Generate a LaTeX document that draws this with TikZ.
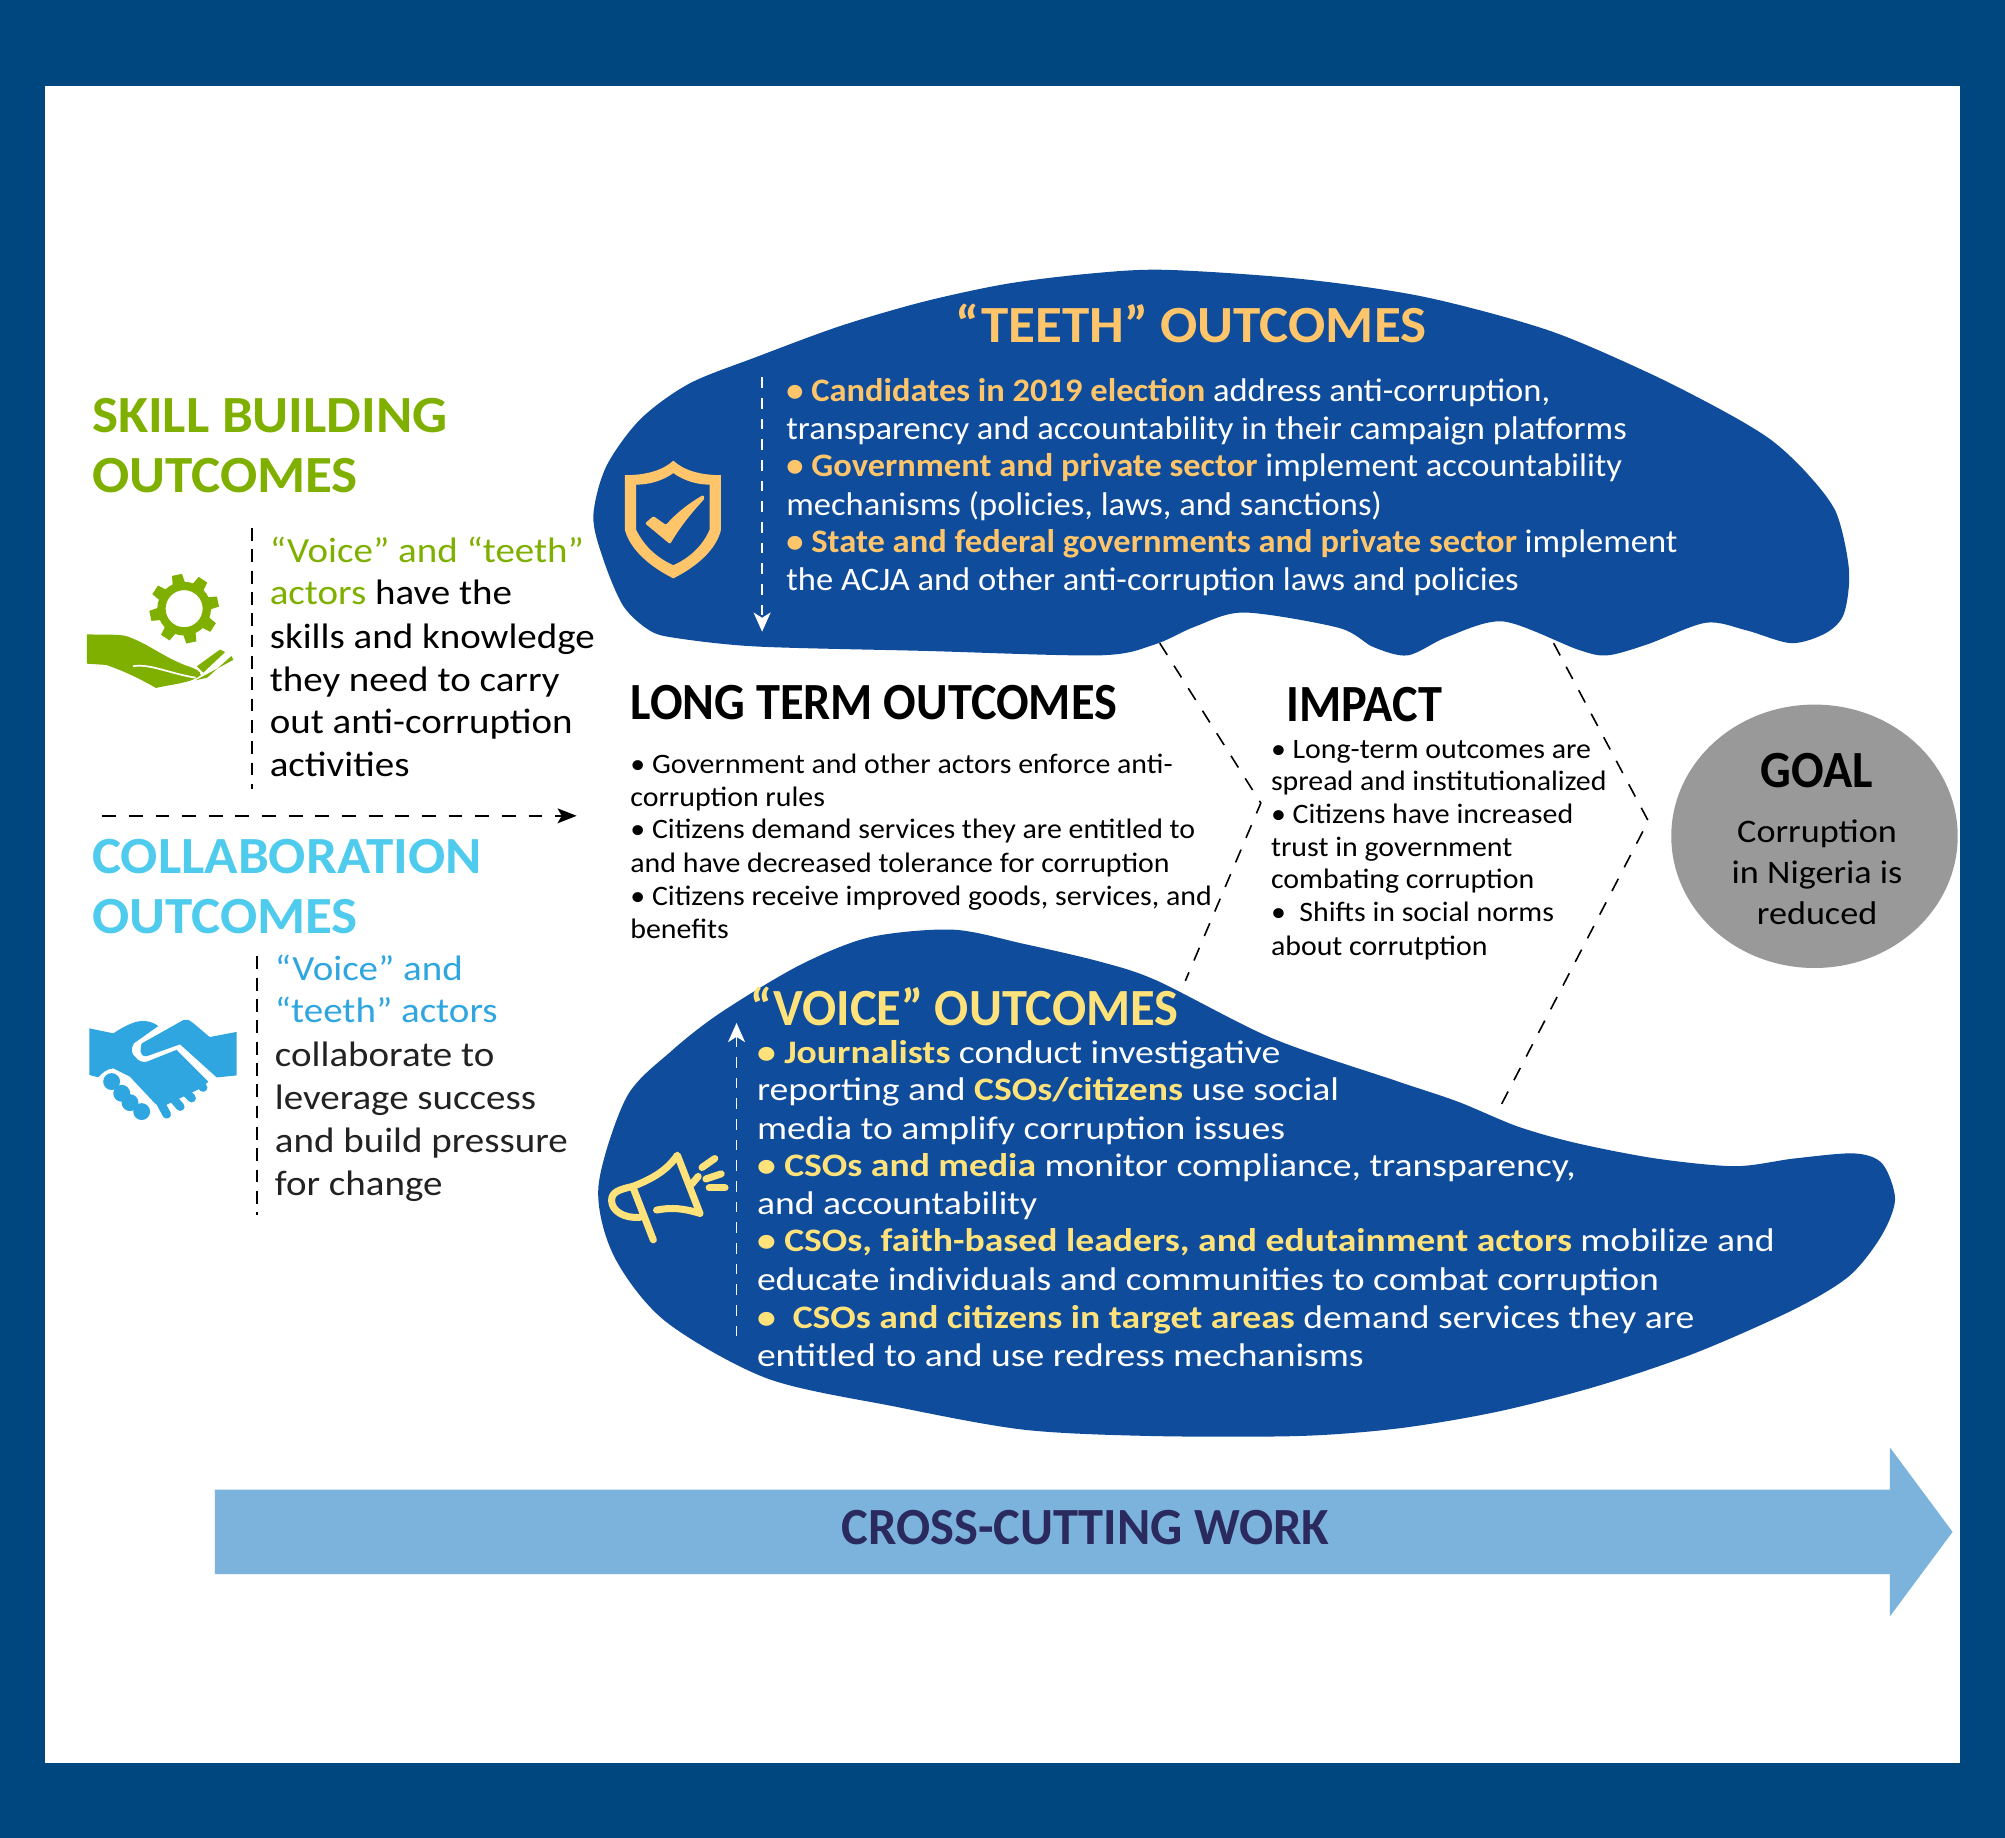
\documentclass[tikz,border=0pt]{standalone}
\usepackage{fontspec}
\setmainfont{Carlito}
\newfontfamily\fsA[FakeStretch=1.055]{Carlito}
\newfontfamily\fsB[FakeStretch=0.967]{Carlito}
\newfontfamily\fsC[FakeStretch=0.925]{Carlito}
\newfontfamily\fsD[FakeStretch=1.102]{Carlito}
\newfontfamily\fsE[FakeStretch=1.051]{Carlito}
\newfontfamily\fsF[FakeStretch=1.147]{Carlito}
\newfontfamily\fsG[FakeStretch=1.062]{Carlito}
\usetikzlibrary{arrows.meta}
\definecolor{frame}{HTML}{00477F}
\definecolor{blobblue}{HTML}{0F4C9B}
\definecolor{tgold}{HTML}{FFC56B}
\definecolor{vyel}{HTML}{FFE27A}
\definecolor{sgreen}{HTML}{7FB000}
\definecolor{ccyan}{HTML}{4FCBEE}
\definecolor{cblue}{HTML}{2FA6E0}
\definecolor{arrowblue}{HTML}{7BB3DC}
\definecolor{ccnavy}{HTML}{2B2A5E}
\definecolor{goalgrey}{HTML}{999999}
\definecolor{txtdark}{HTML}{222222}
\newcommand{\G}[1]{\textcolor{tgold}{\bfseries #1}}
\newcommand{\Y}[1]{\textcolor{vyel}{\bfseries #1}}
\tikzset{
 x=0.6pt,y=-0.6pt,
 ln/.style={anchor=base west,inner sep=0pt,outer sep=0pt},
 headA/.style={ln,font=\fsA\bfseries\fontsize{24.5}{24.5}\selectfont},
 headB/.style={ln,font=\fsB\bfseries\fontsize{24.5}{24.5}\selectfont},
 headC/.style={ln,font=\fsC\bfseries\fontsize{24.5}{24.5}\selectfont},
 lbl/.style={ln,font=\fsD\fontsize{16.6}{18}\selectfont,text=black},
 goaltxt/.style={ln,anchor=base,font=\fsD\fontsize{15.4}{18}\selectfont,text=black},
 teethtxt/.style={ln,font=\fsE\fontsize{15.4}{18}\selectfont,text=white},
 voicetxt/.style={ln,font=\fsF\fontsize{15.4}{18}\selectfont,text=white},
 mid/.style={ln,font=\fsG\fontsize{13.2}{15}\selectfont,text=black},
 dlong/.style={dash pattern=on 6.5pt off 6pt,line width=0.75pt},
 dshort/.style={dash pattern=on 6pt off 4pt,line width=0.85pt},
}
\begin{document}
\begin{tikzpicture}
\useasboundingbox (0,0) rectangle (1568,1437);
\fill[frame] (0,0) rectangle (1568,1437);
\fill[white] (35,67) rectangle (1533,1379);
% teeth blob
\fill[blobblue] plot[smooth cycle,tension=0.5] coordinates {(464,404) (474,365) (500.6,328) (539,300) (592,279) (657,255) (722,236) (787,222) (852,214) (911,211) (1016,218) (1113,232) (1210,258) (1288,291) (1347,321) (1385,344) (1413,370) (1436,401) (1446,446) (1442,480) (1428,495) (1401,503) (1366,493) (1334,487) (1288,504) (1257,512.5) (1234,508) (1175.7,486) (1132,498) (1101,512.5) (1074,506) (1047,491) (973,479) (934.6,490) (903,504) (860,512.5) (722,509) (592,505.6) (529,499) (508,493) (487.5,474) (472,438)};
% voice blob
\fill[blobblue] plot[smooth cycle,tension=0.5] coordinates {(468,928) (490,858) (525,822) (563.5,792) (625,755) (680,733) (745,727) (800,738) (860,752) (905,767) (995,812) (1091,845) (1140,861.5) (1187,881) (1233,894) (1295,906) (1357,912) (1403,906) (1450,902) (1472,910) (1482,938) (1471,967) (1446,998) (1403,1024) (1326,1058) (1249,1084) (1171,1104) (1094,1117) (1016,1123) (900,1123) (800,1118) (700,1100) (600,1078) (520,1033) (480,982)};
% goal
\coordinate (goal) at (1419,654);
\fill[goalgrey] (goal) ellipse [x radius=112,y radius=103];
% big arrow
\fill[arrowblue] (168,1165) -- (1478,1165) -- (1478,1132) -- (1527,1198) -- (1478,1264) -- (1478,1231) -- (168,1231) -- cycle;
% connector points
\coordinate (ia) at (907,503); \coordinate (ib) at (986,628); \coordinate (ic) at (927,767);
\coordinate (ja) at (1215,503); \coordinate (jb) at (1289,642); \coordinate (jc) at (1174,864);
\draw[dlong,black] (ia) -- (ib) -- (ic);
\draw[dlong,black] (ja) -- (jb) -- (jc);
\coordinate (sa) at (197,413); \coordinate (sb) at (197,617);
\coordinate (ca) at (201,748); \coordinate (cb) at (201,950);
\coordinate (ha) at (80,638); \coordinate (hb) at (451,638);
\coordinate (ta) at (596,295); \coordinate (tb) at (596,494);
\coordinate (va) at (576,1045); \coordinate (vb) at (576,800);
\draw[dshort,black] (sa) -- (sb);
\draw[dshort,black] (ca) -- (cb);
\draw[dlong,black,-{Stealth[length=9pt,width=7pt,inset=2pt]}] (ha) -- (hb);
\draw[dshort,dash pattern=on 5pt off 4.7pt,white,-{Stealth[length=9pt,width=8pt,inset=2.5pt]}] (ta) -- (tb);
\draw[dshort,dash pattern=on 5pt off 4.7pt,white,-{Stealth[length=9pt,width=8pt,inset=2.5pt]}] (va) -- (vb);
% headings
\node[headA,text=sgreen] (s1) at (72,338) {SKILL BUILDING};
\node[headA,text=sgreen] (s2) at (72,385) {OUTCOMES};
\node[headA,text=ccyan] (c1) at (72,683) {COLLABORATION};
\node[headA,text=ccyan] (c2) at (72,730) {OUTCOMES};
\node[headA,text=tgold] (t0) at (747,268) {“TEETH” OUTCOMES};
\node[headB,text=vyel] (v0) at (587,802) {“VOICE” OUTCOMES};
\node[headC,text=black] (l0) at (493,563) {LONG TERM OUTCOMES};
\node[headC,text=black] (i0) at (1006,564) {IMPACT};
\node[headC,text=black,anchor=base] (g0) at (1421,616) {GOAL};
\node[headB,text=ccnavy,anchor=base] (x0) at (849,1208) {CROSS-CUTTING WORK};
% skill text
\node[lbl] (s3) at (211,440) {\textcolor{sgreen}{“Voice” and “teeth”}};
\node[lbl] (s4) at (211,473) {\textcolor{sgreen}{actors} have the};
\node[lbl] (s5) at (211,507) {skills and knowledge};
\node[lbl] (s6) at (211,541) {they need to carry};
\node[lbl] (s7) at (211,574) {out anti-corruption};
\node[lbl] (s8) at (211,607) {activities};
% collab text
\node[lbl] (c3) at (215,767) {\textcolor{cblue}{“Voice” and}};
\node[lbl] (c4) at (215,800) {\textcolor{cblue}{“teeth” actors}};
\node[lbl,text=txtdark] (c5) at (215,834) {collaborate to};
\node[lbl,text=txtdark] (c6) at (215,868) {leverage success};
\node[lbl,text=txtdark] (c7) at (215,901) {and build pressure};
\node[lbl,text=txtdark] (c8) at (215,935) {for change};
% teeth text
\node[teethtxt] (t1) at (615,314) {\G{• Candidates in 2019 election} address anti-corruption,};
\node[teethtxt] (t2) at (615,344) {transparency and accountability in their campaign platforms};
\node[teethtxt] (t3) at (615,373) {\G{• Government and private sector} implement accountability};
\node[teethtxt] (t4) at (615,403) {mechanisms (policies, laws, and sanctions)};
\node[teethtxt] (t5) at (615,432) {\G{• State and federal governments and private sector} implement};
\node[teethtxt] (t6) at (615,462) {the ACJA and other anti-corruption laws and policies};
% voice text
\node[voicetxt] (v1) at (592,832) {\Y{• Journalists} conduct investigative};
\node[voicetxt] (v2) at (592,861) {reporting and \Y{CSOs/citizens} use social};
\node[voicetxt] (v3) at (592,891) {media to amplify corruption issues};
\node[voicetxt] (v4) at (592,920) {\Y{• CSOs and media} monitor compliance, transparency,};
\node[voicetxt] (v5) at (592,950) {and accountability};
\node[voicetxt] (v6) at (592,979) {\Y{• CSOs, faith-based leaders, and edutainment actors} mobilize and};
\node[voicetxt] (v7) at (592,1009) {educate individuals and communities to combat corruption};
\node[voicetxt] (v8) at (592,1039) {\Y{•\ \ CSOs and citizens in target areas} demand services they are};
\node[voicetxt] (v9) at (592,1069) {entitled to and use redress mechanisms};
% long term
\node[mid] (l1) at (493,605) {• Government and other actors enforce anti-};
\node[mid] (l2) at (493,631) {corruption rules};
\node[mid] (l3) at (493,656) {• Citizens demand services they are entitled to};
\node[mid] (l4) at (493,682) {and have decreased tolerance for corruption};
\node[mid] (l5) at (493,708) {• Citizens receive improved goods, services, and};
\node[mid] (l6) at (493,734) {benefits};
% impact
\node[mid] (i1) at (994,593) {• Long-term outcomes are};
\node[mid] (i2) at (994,618) {spread and institutionalized};
\node[mid] (i3) at (994,644) {• Citizens have increased};
\node[mid] (i4) at (994,670) {trust in government};
\node[mid] (i5) at (994,695) {combating corruption};
\node[mid] (i6) at (994,721) {•\ \ Shifts in social norms};
\node[mid] (i7) at (994,747) {about corrutption};
% goal text
\node[goaltxt] (g1) at (1421,659) {Corruption};
\node[goaltxt] (g2) at (1421,691) {in Nigeria is};
\node[goaltxt] (g3) at (1421,723) {reduced};
% gear icon
\begin{scope}[shift={(144,476)}]
 \fill[sgreen,even odd rule] (0,0) circle (21) (0,0) circle (14.5);
 \foreach \a in {0,45,...,315} \fill[sgreen,rotate=\a+12] (-5,-19) -- (-4,-27) -- (4,-27) -- (5,-19) -- cycle;
\end{scope}
% hand icon
\fill[sgreen] (68,496) .. controls (85,497) and (95,495) .. (103,499) .. controls (118,505) and (130,515) .. (147,521) .. controls (153,523) and (157,525) .. (157,528) .. controls (150,534) and (135,535) .. (122,538) .. controls (108,530) and (95,524) .. (83,520) -- (68,519) -- cycle;
\fill[sgreen] (154,521) -- (172,508) -- (176,510) -- (159,526) -- cycle;
\fill[sgreen] (162,530) -- (181,513) -- (182.5,516) -- (153,532) -- cycle;
\draw[white,line width=0.8pt] (104,521) .. controls (118,519) and (130,526) .. (153,530);
% handshake icon
\fill[cblue] (69.9,804.2) -- (88.6,808.1) .. controls (95,804) and (100,801) .. (106.9,799) .. controls (111,798) and (118,798) .. (123.8,802.4) -- (104.7,815.9) .. controls (102,820) and (103,825) .. (105.6,826.3) .. controls (108,830) and (112,831) .. (114.7,830.3) -- (138.1,821) -- (163,846) -- (155,852) -- (126,866) -- (121.2,862.9) -- (101.6,842) -- (88.6,835.5) .. controls (83,836) and (80,839) .. (76.9,842.5) -- (69.9,840.7) -- cycle;
\begin{scope}[cblue,line width=4pt,line cap=round]
\draw (140,833) -- (158.9,850.5);
\draw (132,840) -- (149.9,858.8);
\draw (124,846) -- (141,865.5);
\draw (120,852) -- (130.4,871.5);
\end{scope}
\fill[cblue] (110.8,816) -- (143.4,797.7) .. controls (147,797) and (149,798) .. (151,800) -- (164,811) -- (185,807) -- (185,841) -- (169.5,842.6) -- (140.8,816.7) -- (114.7,826) .. controls (112,826) and (110,825) .. (110,822.7) .. controls (110,820) and (110,818) .. (110.8,816) -- cycle;
\foreach \p in {(87.3,845.8),(95.2,855),(101.7,862.3),(110.8,869.3)} \fill[cblue] \p circle (6.6);
% shield icon
\fill[tgold,even odd rule] (526.6,360.3) .. controls (535,368) and (548,371.6) .. (563.8,371.6) -- (563.8,414.5) .. controls (560,430) and (545,443) .. (526.6,452.3) .. controls (508,443) and (493,430) .. (488.7,414.5) -- (488.7,371.6) .. controls (505,371.6) and (518,368) .. (526.6,360.3) -- cycle
 (526.6,370) .. controls (535,376) and (545,379) .. (555,379) -- (555,414) .. controls (550,426) and (540,436) .. (526.6,442) .. controls (513,436) and (503,426) .. (497.4,414) -- (497.4,379) .. controls (508,379) and (518,376) .. (526.6,370) -- cycle;
\fill[tgold,rounded corners=0.6pt] (504.4,409.3) -- (511,403.6) -- (520.8,410.5) .. controls (530,400) and (540,393) .. (550,387) -- (551,390) .. controls (540,402) and (532,412) .. (524,425.5) -- cycle;
% megaphone icon
\begin{scope}[vyel,line width=3.3pt,line cap=round,line join=round]
\draw (513.5,946.3) .. controls (525,944) and (535,945) .. (547.4,948.9) -- (529.7,903.4) .. controls (522,915) and (510,922) .. (495,927.8) .. controls (485,930) and (478,932) .. (478.3,939) .. controls (478.5,947) and (488,953) .. (500.5,952);
\draw (495.3,929.3) -- (510.9,969.6);
\draw (541,926) -- (546,920);
\draw (549,913) -- (559,906);
\draw (552,922) -- (564,918);
\draw (554.6,929) -- (567,929);
\end{scope}
\end{tikzpicture}
\end{document}
